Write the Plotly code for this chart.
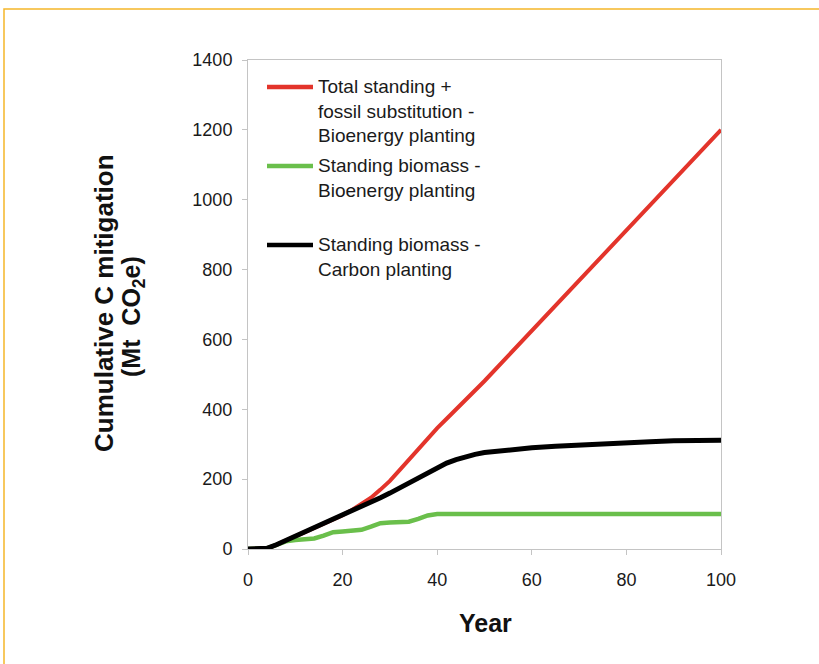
import plotly.graph_objects as go

# Cumulative carbon mitigation over 100 years for three planting scenarios
years = [0, 2, 4, 6, 8, 10, 12, 14, 16, 18, 20, 22, 24, 26, 28, 30, 32, 34,
         36, 38, 40, 42, 44, 46, 48, 50, 55, 60, 65, 70, 75, 80, 85, 90, 95, 100]

total_bioenergy = [0, 0, 2, 12, 24, 36, 48, 60, 72, 84, 97, 112, 128, 147, 170, 195,
                   225, 255, 285, 318, 346, 373, 400, 427, 454, 481, 553, 625, 698,
                   770, 843, 915, 988, 1060, 1130, 1200]

standing_bioenergy = [0, 0, 2, 12, 22, 26, 28, 30, 38, 48, 50, 51, 55, 64, 74, 76,
                      76, 78, 86, 96, 100, 100, 100, 100, 100, 100, 100, 100, 100,
                      100, 100, 100, 100, 100, 100, 100]

standing_carbon = [0, 0, 2, 12, 24, 36, 48, 60, 72, 84, 96, 108, 120, 133, 147, 160,
                   175, 190, 203, 217, 232, 246, 256, 264, 271, 276, 284, 290, 294,
                   298, 302, 305, 307, 310, 311, 311]

series_names = [
    ["Total standing +", "fossil substitution -", "Bioenergy planting"],
    ["Standing biomass -", "Bioenergy planting"],
    ["Standing biomass -", "Carbon planting"],
]
series_colors = ["#e3342b", "#6abf4b", "#000000"]
x_ticks = [0, 20, 40, 60, 80, 100]
y_ticks = [0, 200, 400, 600, 800, 1000, 1200, 1400]

W, H = 819, 664
L, R, T, B = 248, 721, 60, 549  # plot area in pixels
FONT = "Liberation Sans, Arial, sans-serif"


def px(x):
    return (x - L) / (R - L)


def py(y):
    return (B - y) / (B - T)


fig = go.Figure()
for vals, color, width, name in [
    (total_bioenergy, series_colors[0], 4, series_names[0]),
    (standing_bioenergy, series_colors[1], 4.5, series_names[1]),
    (standing_carbon, series_colors[2], 5, series_names[2]),
]:
    fig.add_trace(go.Scatter(
        x=years, y=vals, mode="lines", name=" ".join(name),
        line=dict(color=color, width=width), showlegend=False,
    ))

axis_common = dict(
    showgrid=False, zeroline=False, showline=True, linecolor="#c4c4c4",
    linewidth=1, mirror=True, ticks="outside", ticklen=5, tickcolor="#c4c4c4",
    tickfont=dict(family=FONT, size=18, color="#1a1a1a"),
)
fig.update_xaxes(range=[0, 100], tickvals=x_ticks, ticklabelstandoff=9, **axis_common)
fig.update_yaxes(range=[0, 1400], tickvals=y_ticks, ticklabelstandoff=6, **axis_common)

# Legend drawn as line samples with text beside them
legend_rows = [87, 166, 245]
shapes = []
annotations = []
for row, color, name in zip(legend_rows, series_colors, series_names):
    shapes.append(dict(type="line", xref="paper", yref="paper",
                       x0=px(267), x1=px(313), y0=py(row), y1=py(row),
                       line=dict(color=color, width=4.5)))
    annotations.append(dict(
        xref="paper", yref="paper", x=px(316), y=py(row - 13),
        xanchor="left", yanchor="top", align="left", showarrow=False,
        text="<br>".join(name),
        font=dict(family=FONT, size=19, color="#1a1a1a"),
    ))

# Axis titles
annotations.append(dict(
    xref="paper", yref="paper", x=px(485), y=py(623), xanchor="center",
    yanchor="middle", showarrow=False, text="<b>Year</b>",
    font=dict(family=FONT, size=25, color="#111111"),
))
annotations.append(dict(
    xref="paper", yref="paper", x=px(104), y=py(303), xanchor="center",
    yanchor="middle", showarrow=False, textangle=-90,
    text="<b>Cumulative C mitigation</b>",
    font=dict(family=FONT, size=26, color="#111111"),
))
annotations.append(dict(
    xref="paper", yref="paper", x=px(133), y=py(317), xanchor="center",
    yanchor="middle", showarrow=False, textangle=-90,
    text="<b>(Mt&nbsp;&nbsp;CO<sub>2</sub>e)</b>",
    font=dict(family=FONT, size=25, color="#111111"),
))

# Outer frame of the figure box
shapes.append(dict(type="rect", xref="paper", yref="paper",
                   x0=px(4), x1=px(840), y0=py(9), y1=py(700),
                   line=dict(color="#f5b62a", width=1.5), layer="below"))

fig.update_layout(
    width=W, height=H, autosize=False,
    margin=dict(l=L, r=W - R, t=T, b=H - B, pad=0),
    paper_bgcolor="white", plot_bgcolor="white",
    shapes=shapes, annotations=annotations,
)

fig.write_html("out.html", config={"displayModeBar": False})
